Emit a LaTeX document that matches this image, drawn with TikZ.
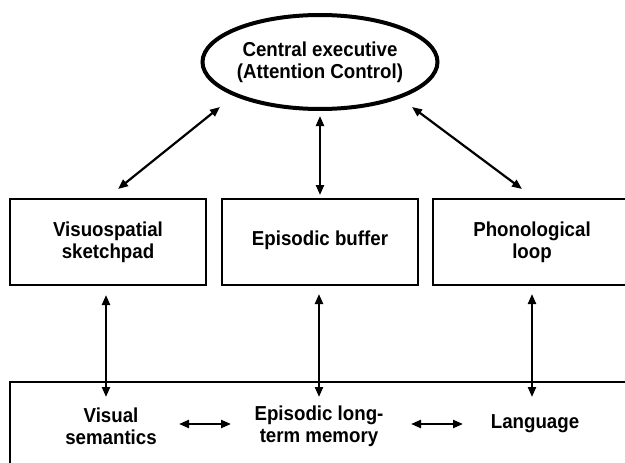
\documentclass[tikz,border=0pt]{standalone}
\usepackage{fontspec}
\usepackage{graphicx}
\setmainfont{Liberation Sans}
\usetikzlibrary{arrows.meta,shapes.geometric}
\newcommand\tl[1]{\scalebox{1}[1.08]{#1}}
\begin{document}
\begin{tikzpicture}[x=1pt,y=-1pt,
  lbl/.style={font=\bfseries\fontsize{18.7}{22}\selectfont,align=center},
  box/.style={draw,line width=1.8pt},
  arr/.style={line width=2.2pt,{Triangle[length=10pt,width=8pt]}-{Triangle[length=10pt,width=8pt]}}]
\clip (0,0) rectangle (625,463);
\fill[white] (0,0) rectangle (625,463);
% central executive
\node[draw,ellipse,line width=4pt,minimum width=229pt,minimum height=94pt,inner sep=0pt,lbl] (ce) at (320,62) {\tl{Central executive}\\\tl{(Attention Control)}};
% boxes
\draw[box] (10,199) rectangle (206,285);
\node[lbl] (vs) at (108,242) {\tl{Visuospatial}\\\tl{sketchpad}};
\draw[box] (222,199) rectangle (418,285);
\node[lbl] (eb) at (320,240) {\tl{Episodic buffer}};
\draw[box] (433,199) rectangle (631,285);
\node[lbl] (pl) at (532,242) {\tl{Phonological}\\\tl{loop}};
\draw[box] (10,382) rectangle (640,480);
\node[lbl] (vsem) at (111,426) {\tl{Visual}\\\tl{semantics}};
\node[lbl] (eltm) at (319,426) {\tl{Episodic long-}\\\tl{term memory}};
\node[lbl] (lang) at (535,424) {\tl{Language}};
% connector end points
\coordinate (a1) at (220,107); \coordinate (a2) at (118,189);
\coordinate (b1) at (320,116); \coordinate (b2) at (320,195);
\coordinate (c1) at (412,107); \coordinate (c2) at (522,189);
\coordinate (d1) at (106,295); \coordinate (d2) at (106,397);
\coordinate (e1) at (319,294); \coordinate (e2) at (319,397);
\coordinate (f1) at (532,294); \coordinate (f2) at (532,397);
\coordinate (g1) at (179,424); \coordinate (g2) at (231,424);
\coordinate (h1) at (411,424); \coordinate (h2) at (463,424);
\draw[arr] (a1) -- (a2);
\draw[arr] (b1) -- (b2);
\draw[arr] (c1) -- (c2);
\draw[arr] (d1) -- (d2);
\draw[arr] (e1) -- (e2);
\draw[arr] (f1) -- (f2);
\draw[arr] (g1) -- (g2);
\draw[arr] (h1) -- (h2);
\end{tikzpicture}
\end{document}
